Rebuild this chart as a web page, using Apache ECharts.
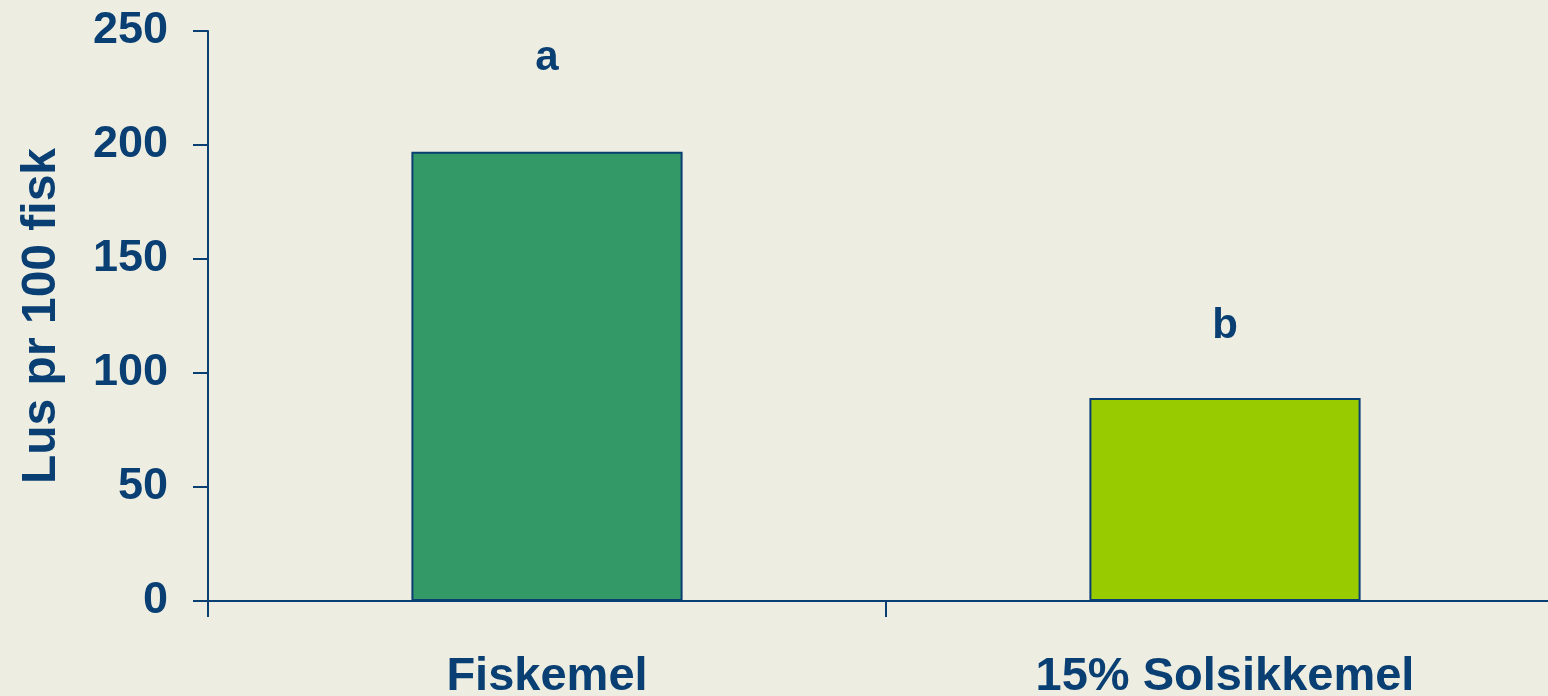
<!DOCTYPE html>
<html>
<head>
<meta charset="utf-8">
<script src="https://cdn.jsdelivr.net/npm/echarts@6/dist/echarts.min.js"></script>
<style>
html,body{margin:0;padding:0;overflow:hidden;width:1548px;height:696px;background:#edeee1;}
#chart{width:1564px;height:696px;}
</style>
</head>
<body>
<div id="chart"></div>
<script>
var categories = ['Fiskemel', '15% Solsikkemel'];
var values = [197, 89];
var letters = ['a', 'b'];
var barColors = ['#339966', '#99cc00'];
var yTicks = [0, 50, 100, 150, 200, 250];
var axisTitle = 'Lus pr 100 fisk';

var textColor = '#0a3f73';
var lineColor = '#0a3f73';
var font = '"Liberation Sans", Arial, sans-serif';
var letterDistance = [72, 51];

var chart = echarts.init(document.getElementById('chart'), null, {renderer: 'canvas'});
chart.setOption({
  animation: false,
  backgroundColor: 'transparent',
  grid: {left: 208, right: 0, top: 31, bottom: 95, containLabel: false, outerBoundsMode: 'none'},
  xAxis: {
    type: 'category',
    data: categories,
    boundaryGap: true,
    axisLine: {show: true, lineStyle: {color: lineColor, width: 2}},
    axisTick: {show: true, inside: false, length: 16, alignWithLabel: false, lineStyle: {color: lineColor, width: 2}},
    axisLabel: {color: textColor, fontFamily: font, fontWeight: 'bold', fontSize: 47, margin: 53}
  },
  yAxis: {
    type: 'value',
    min: yTicks[0],
    max: yTicks[yTicks.length - 1],
    interval: yTicks[1] - yTicks[0],
    name: axisTitle,
    nameLocation: 'middle',
    nameGap: 142,
    nameRotate: 90,
    nameTextStyle: {color: textColor, fontFamily: font, fontWeight: 'bold', fontSize: 48},
    splitLine: {show: false},
    axisLine: {show: true, lineStyle: {color: lineColor, width: 2}},
    axisTick: {show: true, inside: false, length: 15, lineStyle: {color: lineColor, width: 2}},
    axisLabel: {color: textColor, fontFamily: font, fontWeight: 'bold', fontSize: 45, margin: 40}
  },
  series: [{
    type: 'bar',
    barWidth: '40%',
    data: values.map(function (v, i) {
      return {
        value: v,
        itemStyle: {color: barColors[i], borderColor: lineColor, borderWidth: 2},
        label: {
          show: true,
          position: 'top',
          distance: letterDistance[i],
          formatter: letters[i],
          color: textColor,
          fontFamily: font,
          fontWeight: 'bold',
          fontSize: 42
        }
      };
    })
  }]
});
</script>
</body>
</html>
